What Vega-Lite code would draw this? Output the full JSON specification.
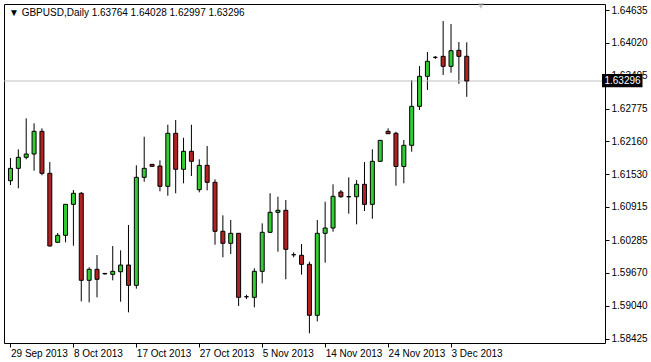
{
  "$schema": "https://vega.github.io/schema/vega-lite/v6.json",
  "width": 601,
  "height": 339,
  "autosize": {"type": "none"},
  "padding": {"left": 4, "top": 4, "right": 46, "bottom": 19},
  "background": "#ffffff",
  "config": {
    "font": "Liberation Sans",
    "view": {"stroke": "#000000", "strokeWidth": 1},
    "axis": {"labelOverlap": false, "labelSeparation": 0}
  },
  "title": {
    "text": "▼ GBPUSD,Daily  1.63764 1.64028 1.62997 1.63296",
    "anchor": "start",
    "frame": "group",
    "orient": "top",
    "offset": -9,
    "baseline": "middle",
    "dx": 5,
    "dy": 11,
    "fontSize": 10,
    "fontWeight": "normal",
    "color": "#000000"
  },
  "data": {
    "values": [
      {"i": 0, "date": "29 Sep 2013", "o": 1.61410, "h": 1.61839, "l": 1.61329, "c": 1.61644},
      {"i": 1, "date": "30 Sep 2013", "o": 1.61644, "h": 1.62004, "l": 1.61266, "c": 1.61853},
      {"i": 2, "date": "1 Oct 2013", "o": 1.61853, "h": 1.62590, "l": 1.61815, "c": 1.61915},
      {"i": 3, "date": "2 Oct 2013", "o": 1.61915, "h": 1.62496, "l": 1.61599, "c": 1.62344},
      {"i": 4, "date": "3 Oct 2013", "o": 1.62344, "h": 1.62401, "l": 1.61512, "c": 1.61550},
      {"i": 5, "date": "4 Oct 2013", "o": 1.61550, "h": 1.61764, "l": 1.60165, "c": 1.60175},
      {"i": 6, "date": "6 Oct 2013", "o": 1.60245, "h": 1.60421, "l": 1.60231, "c": 1.60377},
      {"i": 7, "date": "7 Oct 2013", "o": 1.60377, "h": 1.60970, "l": 1.60245, "c": 1.60963},
      {"i": 8, "date": "8 Oct 2013", "o": 1.60963, "h": 1.61234, "l": 1.60180, "c": 1.61172},
      {"i": 9, "date": "9 Oct 2013", "o": 1.61172, "h": 1.61196, "l": 1.59128, "c": 1.59526},
      {"i": 10, "date": "10 Oct 2013", "o": 1.59526, "h": 1.59772, "l": 1.59109, "c": 1.59734},
      {"i": 11, "date": "11 Oct 2013", "o": 1.59734, "h": 1.60004, "l": 1.59204, "c": 1.59545},
      {"i": 12, "date": "13 Oct 2013", "o": 1.59656, "h": 1.59666, "l": 1.59634, "c": 1.59648},
      {"i": 13, "date": "14 Oct 2013", "o": 1.59639, "h": 1.60175, "l": 1.59526, "c": 1.59696},
      {"i": 14, "date": "15 Oct 2013", "o": 1.59688, "h": 1.60093, "l": 1.59121, "c": 1.59815},
      {"i": 15, "date": "16 Oct 2013", "o": 1.59815, "h": 1.60572, "l": 1.58920, "c": 1.59431},
      {"i": 16, "date": "17 Oct 2013", "o": 1.59431, "h": 1.61701, "l": 1.59367, "c": 1.61474},
      {"i": 17, "date": "18 Oct 2013", "o": 1.61474, "h": 1.62242, "l": 1.61391, "c": 1.61644},
      {"i": 18, "date": "20 Oct 2013", "o": 1.61720, "h": 1.61725, "l": 1.61678, "c": 1.61682},
      {"i": 19, "date": "21 Oct 2013", "o": 1.61688, "h": 1.61796, "l": 1.61209, "c": 1.61304},
      {"i": 20, "date": "22 Oct 2013", "o": 1.61304, "h": 1.62469, "l": 1.61126, "c": 1.62307},
      {"i": 21, "date": "23 Oct 2013", "o": 1.62307, "h": 1.62558, "l": 1.61172, "c": 1.61626},
      {"i": 22, "date": "24 Oct 2013", "o": 1.61626, "h": 1.62223, "l": 1.61361, "c": 1.61966},
      {"i": 23, "date": "25 Oct 2013", "o": 1.61966, "h": 1.62469, "l": 1.61499, "c": 1.61777},
      {"i": 24, "date": "27 Oct 2013", "o": 1.61240, "h": 1.61815, "l": 1.61190, "c": 1.61701},
      {"i": 25, "date": "28 Oct 2013", "o": 1.61701, "h": 1.62066, "l": 1.61228, "c": 1.61380},
      {"i": 26, "date": "29 Oct 2013", "o": 1.61380, "h": 1.61436, "l": 1.60199, "c": 1.60453},
      {"i": 27, "date": "30 Oct 2013", "o": 1.60453, "h": 1.60755, "l": 1.59961, "c": 1.60226},
      {"i": 28, "date": "31 Oct 2013", "o": 1.60226, "h": 1.60666, "l": 1.60023, "c": 1.60415},
      {"i": 29, "date": "1 Nov 2013", "o": 1.60415, "h": 1.60420, "l": 1.59039, "c": 1.59204},
      {"i": 30, "date": "3 Nov 2013", "o": 1.59215, "h": 1.59253, "l": 1.59172, "c": 1.59215},
      {"i": 31, "date": "4 Nov 2013", "o": 1.59204, "h": 1.59753, "l": 1.59015, "c": 1.59696},
      {"i": 32, "date": "5 Nov 2013", "o": 1.59696, "h": 1.60604, "l": 1.59469, "c": 1.60434},
      {"i": 33, "date": "6 Nov 2013", "o": 1.60434, "h": 1.61172, "l": 1.60420, "c": 1.60812},
      {"i": 34, "date": "7 Nov 2013", "o": 1.60812, "h": 1.61107, "l": 1.60067, "c": 1.60850},
      {"i": 35, "date": "8 Nov 2013", "o": 1.60850, "h": 1.61045, "l": 1.59545, "c": 1.60112},
      {"i": 36, "date": "10 Nov 2013", "o": 1.60010, "h": 1.60055, "l": 1.59961, "c": 1.60010},
      {"i": 37, "date": "11 Nov 2013", "o": 1.59999, "h": 1.60212, "l": 1.59632, "c": 1.59828},
      {"i": 38, "date": "12 Nov 2013", "o": 1.59828, "h": 1.59878, "l": 1.58523, "c": 1.58864},
      {"i": 39, "date": "13 Nov 2013", "o": 1.58864, "h": 1.60666, "l": 1.58750, "c": 1.60415},
      {"i": 40, "date": "14 Nov 2013", "o": 1.60415, "h": 1.61013, "l": 1.59859, "c": 1.60515},
      {"i": 41, "date": "15 Nov 2013", "o": 1.60515, "h": 1.61342, "l": 1.60445, "c": 1.61115},
      {"i": 42, "date": "17 Nov 2013", "o": 1.61196, "h": 1.61234, "l": 1.61088, "c": 1.61107},
      {"i": 43, "date": "18 Nov 2013", "o": 1.61107, "h": 1.61474, "l": 1.60786, "c": 1.61107},
      {"i": 44, "date": "19 Nov 2013", "o": 1.61107, "h": 1.61423, "l": 1.60585, "c": 1.61342},
      {"i": 45, "date": "20 Nov 2013", "o": 1.61342, "h": 1.61764, "l": 1.60837, "c": 1.60963},
      {"i": 46, "date": "21 Nov 2013", "o": 1.60963, "h": 1.62004, "l": 1.60691, "c": 1.61777},
      {"i": 47, "date": "22 Nov 2013", "o": 1.61777, "h": 1.62180, "l": 1.61770, "c": 1.62174},
      {"i": 48, "date": "24 Nov 2013", "o": 1.62344, "h": 1.62401, "l": 1.62295, "c": 1.62299},
      {"i": 49, "date": "25 Nov 2013", "o": 1.62307, "h": 1.62337, "l": 1.61315, "c": 1.61679},
      {"i": 50, "date": "26 Nov 2013", "o": 1.61679, "h": 1.62180, "l": 1.61361, "c": 1.62080},
      {"i": 51, "date": "27 Nov 2013", "o": 1.62080, "h": 1.63315, "l": 1.61959, "c": 1.62817},
      {"i": 52, "date": "28 Nov 2013", "o": 1.62817, "h": 1.63580, "l": 1.62747, "c": 1.63385},
      {"i": 53, "date": "29 Nov 2013", "o": 1.63385, "h": 1.63845, "l": 1.63126, "c": 1.63669},
      {"i": 54, "date": "1 Dec 2013", "o": 1.63744, "h": 1.63769, "l": 1.63712, "c": 1.63744},
      {"i": 55, "date": "2 Dec 2013", "o": 1.63763, "h": 1.64431, "l": 1.63410, "c": 1.63574},
      {"i": 56, "date": "3 Dec 2013", "o": 1.63574, "h": 1.64374, "l": 1.63453, "c": 1.63869},
      {"i": 57, "date": "4 Dec 2013", "o": 1.63877, "h": 1.64034, "l": 1.63245, "c": 1.63763},
      {"i": 58, "date": "5 Dec 2013", "o": 1.63764, "h": 1.64028, "l": 1.62997, "c": 1.63296}
    ]
  },
  "layer": [
    {
      "mark": {"type": "rule", "color": "#000000", "strokeWidth": 1},
      "encoding": {
        "x": {
          "field": "i",
          "type": "quantitative",
          "scale": {"domain": [-0.1875, 74.9375], "nice": false, "zero": false},
          "axis": {
            "title": null,
            "grid": false,
            "domain": false,
            "values": [0, 8, 16, 24, 32, 40, 48, 56],
            "tickCount": 20,
            "labelExpr": "['29 Sep 2013','8 Oct 2013','17 Oct 2013','27 Oct 2013','5 Nov 2013','14 Nov 2013','24 Nov 2013','3 Dec 2013'][datum.value/8]",
            "labelAlign": "left",
            "labelBaseline": "top",
            "labelPadding": 1,
            "labelFontSize": 10,
            "labelColor": "#000000",
            "labelFlush": false,
            "labelOverlap": false,
            "tickSize": 4,
            "tickColor": "#000000",
            "tickWidth": 1
          }
        },
        "y": {
          "field": "l",
          "type": "quantitative",
          "scale": {"domain": [1.5834, 1.64753], "nice": false, "zero": false},
          "axis": {
            "orient": "right",
            "title": null,
            "grid": false,
            "domain": false,
            "values": [1.58425, 1.5904, 1.5967, 1.60285, 1.60915, 1.6153, 1.6216, 1.62775, 1.63405, 1.6402, 1.64635],
            "tickCount": 20,
            "format": ".5f",
            "labelAlign": "left",
            "labelBaseline": "middle",
            "labelPadding": 2,
            "labelFontSize": 10,
            "labelColor": "#000000",
            "labelFlush": false,
            "labelOverlap": false,
            "labelSeparation": 0,
            "tickSize": 4,
            "tickColor": "#000000",
            "tickWidth": 1
          }
        },
        "y2": {"field": "h"}
      }
    },
    {
      "data": {"values": [{"price": 1.63296}]},
      "mark": {"type": "rule", "color": "#c0c0c0", "strokeWidth": 1},
      "encoding": {
        "y": {"field": "price", "type": "quantitative"}
      }
    },
    {
      "mark": {"type": "bar", "size": 4, "stroke": "#000000", "strokeWidth": 1},
      "encoding": {
        "x": {"field": "i", "type": "quantitative"},
        "y": {"field": "o", "type": "quantitative"},
        "y2": {"field": "c"},
        "fill": {
          "condition": [
            {"test": "datum.c > datum.o", "value": "#32CD32"},
            {"test": "datum.c < datum.o", "value": "#B22222"}
          ],
          "value": "#000000"
        }
      }
    },
    {
      "data": {"values": [{"price": 1.64715}]},
      "mark": {"type": "point", "shape": "triangle-down", "size": 40, "filled": true, "color": "#a8a8a8"},
      "encoding": {
        "x": {"datum": 59.8},
        "y": {"field": "price", "type": "quantitative"}
      }
    },
    {
      "data": {"values": [{"top": 1.63428, "bottom": 1.63178}]},
      "mark": {"type": "rect", "color": "#000000"},
      "encoding": {
        "x": {"datum": 75.19},
        "x2": {"datum": 80.34},
        "y": {"field": "top", "type": "quantitative"},
        "y2": {"field": "bottom"}
      }
    },
    {
      "data": {"values": [{"price": 1.63296, "label": "1.63296"}]},
      "mark": {"type": "text", "color": "#ffffff", "fontSize": 10, "align": "left", "baseline": "middle"},
      "encoding": {
        "x": {"datum": 75.5},
        "y": {"field": "price", "type": "quantitative"},
        "text": {"field": "label"}
      }
    }
  ]
}
